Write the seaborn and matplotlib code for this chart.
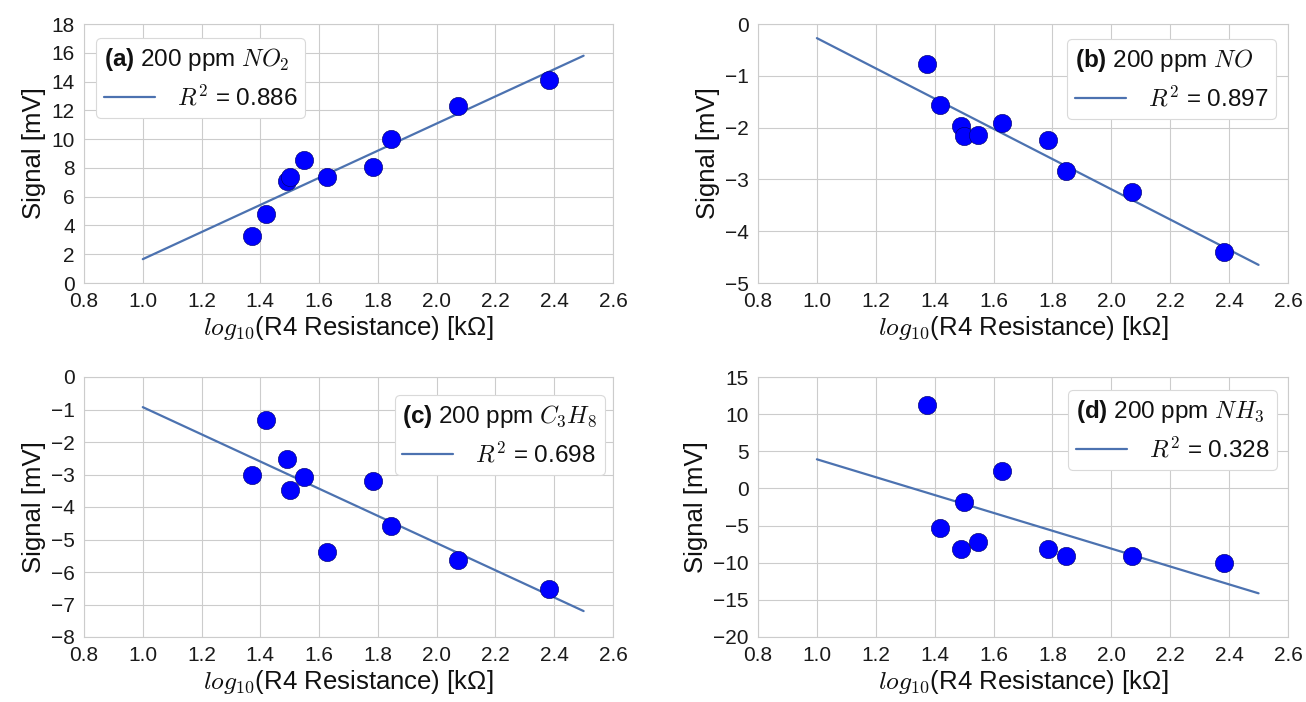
import numpy as np
import matplotlib
matplotlib.use("Agg")
import matplotlib.pyplot as plt
import seaborn as sns

# ---- data ----
log_r4 = [1.373, 1.418, 1.491, 1.500, 1.547, 1.628, 1.784, 1.845, 2.071, 2.382]
sig_no2 = [3.28, 4.81, 7.11, 7.36, 8.52, 7.36, 8.06, 10.01, 12.33, 14.08]
sig_no = [-0.77, -1.57, -1.97, -2.17, -2.15, -1.91, -2.24, -2.84, -3.24, -4.41]
sig_c3h8 = [-3.02, -1.31, -2.51, -3.48, -3.07, -5.38, -3.21, -4.59, -5.62, -6.53]
sig_nh3 = [11.2, -5.27, -8.2, -1.84, -7.26, 2.33, -8.2, -9.1, -9.1, -10.0]

panel_tags = ["(a)", "(b)", "(c)", "(d)"]
gas_labels = ["$NO_2$", "$NO$", "$C_3H_8$", "$NH_3$"]
r2_labels = ["0.886", "0.897", "0.698", "0.328"]
signals = [sig_no2, sig_no, sig_c3h8, sig_nh3]
x_ticks = [0.8, 1.0, 1.2, 1.4, 1.6, 1.8, 2.0, 2.2, 2.4, 2.6]
y_ticks = [list(range(0, 19, 2)), list(range(-5, 1)), list(range(-8, 1)), list(range(-20, 16, 5))]
fit_range = (1.0, 2.5)

sns.set_style("whitegrid")
plt.rcParams["font.family"] = ["Liberation Sans", "DejaVu Sans"]
plt.rcParams["mathtext.fontset"] = "custom"
plt.rcParams["mathtext.rm"] = "cmr10"
plt.rcParams["mathtext.it"] = "cmmi10"
plt.rcParams["mathtext.bf"] = "Liberation Sans:bold"

fig = plt.figure(figsize=(13.06, 7.02), dpi=100)
W, H = 1306, 702
boxes = [(84, 24, 613, 283), (758, 24, 1288, 283), (84, 377, 613, 637), (758, 377, 1288, 637)]
legend_locs = [("upper left", (0.0227, 0.946)), ("upper right", (0.977, 0.942)),
               ("upper right", (0.985, 0.931)), ("upper right", (0.979, 0.95))]

for i, (l, t, r, b) in enumerate(boxes):
    ax = fig.add_axes([l / W, 1 - b / H, (r - l) / W, (b - t) / H])
    y = signals[i]
    slope, intercept = np.polyfit(log_r4, y, 1)
    xf = np.linspace(fit_range[0], fit_range[1], 50)
    sns.lineplot(x=xf, y=slope * xf + intercept, ax=ax, color="#4C72B0", lw=1.6,
                 label="$R^2$ = " + r2_labels[i], zorder=2)
    sns.scatterplot(x=log_r4, y=y, ax=ax, s=175, color="#0000FF", edgecolor="#000060",
                    linewidth=0.4, legend=False, zorder=3)
    ax.set_xlim(0.8, 2.6)
    ax.set_xticks(x_ticks)
    ax.set_xticklabels([f"{v:.1f}" for v in x_ticks])
    ax.set_yticks(y_ticks[i])
    ax.set_ylim(y_ticks[i][0], y_ticks[i][-1])
    ax.tick_params(labelsize=15, pad=3, labelcolor="#1a1a1a")
    ax.set_xlabel("$log_{10}$(R4 Resistance) [kΩ]", fontsize=18.5, labelpad=2, color="#111111")
    ax.set_ylabel("Signal [mV]", fontsize=18.5, labelpad=4, color="#111111")
    loc, anchor = legend_locs[i]
    leg = ax.legend(title=r"$\mathbf{" + panel_tags[i] + "}$ 200 ppm " + gas_labels[i],
                    loc=loc, bbox_to_anchor=anchor, fontsize=17.5, title_fontsize=17.5,
                    frameon=True, facecolor="white", edgecolor="0.85", framealpha=1,
                    handlelength=2.1, handletextpad=0.9, borderpad=0.32, labelspacing=0.5,
                    alignment="left", borderaxespad=0.0)
    leg.get_title().set_color("#111111")
    for txt in leg.get_texts():
        txt.set_color("#111111")
    leg.get_frame().set_linewidth(0.8)
    for sp in ax.spines.values():
        sp.set_color("0.8")

fig.savefig("out.png", dpi=100)
